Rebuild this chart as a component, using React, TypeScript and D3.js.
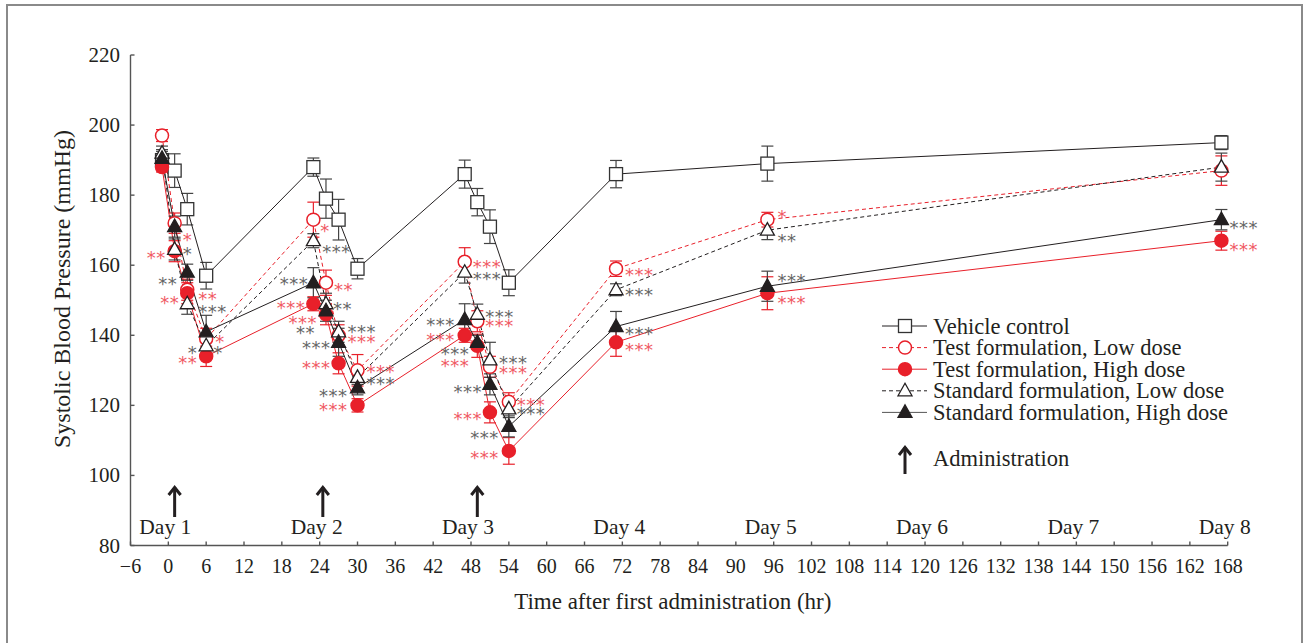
import React from "react";
import * as d3 from "d3";

// sampling times (hr after first administration)
const hours = [-1, 1, 3, 6, 23, 25, 27, 30, 47, 49, 51, 54, 71, 95, 167];

const vehicleMean = [190, 187, 176, 157, 188, 179, 173, 159, 186, 178, 171, 155, 186, 189, 195];
const vehicleSD = [3, 4.8, 4.5, 3.8, 2.6, 5.6, 5.8, 2.9, 4, 3.9, 4.8, 3.7, 3.9, 5, 2];

const testLowMean = [197, 172, 153, 139, 173, 155, 140, 130, 161, 144, 131, 121, 159, 173, 187];
const testLowSD = [1.7, 2.9, 3, 3, 5, 3.6, 3, 4.5, 4, 3, 3, 2.6, 2.2, 2.1, 4.2];

const testHighMean = [188, 164, 152, 134, 149, 146, 132, 120, 140, 137, 118, 107, 138, 152, 167];
const testHighSD = [1.4, 3, 3, 2.9, 2, 3, 3, 1.9, 2, 3.3, 3, 3.8, 4, 4.7, 2.7];

const stdLowMean = [192, 164.5, 149, 137, 167, 149, 141, 128, 158, 146, 133, 119, 153, 170, 188];
const stdLowSD = [2, 3, 3, 2, 2, 3, 3, 2, 3.1, 2.9, 5, 2.5, 1.7, 2.7, 4];

const stdHighMean = [190.5, 171, 158, 141, 155, 147, 138, 125, 144.5, 138, 126, 114, 142.5, 154, 173];
const stdHighSD = [2, 3, 2.3, 4.7, 4.3, 3, 4, 2, 4.5, 2, 3, 3, 4.3, 4.3, 2.9];

const seriesNames = [
  "Vehicle control",
  "Test formulation, Low dose",
  "Test formulation, High dose",
  "Standard formulation, Low dose",
  "Standard formulation, High dose",
];

const yTicks = [80, 100, 120, 140, 160, 180, 200, 220];
const xTicks = d3.range(-6, 169, 6);
const dayLabels = ["Day 1", "Day 2", "Day 3", "Day 4", "Day 5", "Day 6", "Day 7", "Day 8"];
const dayHours = [0, 24, 48, 72, 96, 120, 144, 168];
const doseHours = [1, 24.5, 49];

// significance marks: [series index, time index, stars]
const sigMarks: [number, number, string][] = [
  [1, 1, "*"], [2, 1, "**"], [3, 1, "*"], [4, 2, "**"], [2, 2, "**"], [1, 2, "**"], [3, 2, "***"],
  [1, 3, "*"], [3, 3, "*"], [3, 3, "*"], [2, 3, "**"],
  [1, 4, "*"], [3, 4, "***"], [4, 4, "***"], [1, 5, "**"], [2, 4, "***"], [3, 5, "**"], [2, 5, "***"],
  [4, 5, "**"], [3, 6, "***"], [1, 6, "***"], [4, 6, "***"], [2, 6, "***"],
  [1, 7, "***"], [3, 7, "***"], [4, 7, "***"], [2, 7, "***"],
  [1, 8, "***"], [3, 8, "***"], [3, 9, "***"], [1, 9, "***"], [4, 8, "***"], [2, 8, "***"],
  [4, 9, "***"], [2, 9, "***"], [3, 10, "***"], [1, 10, "***"], [4, 10, "***"], [2, 10, "***"],
  [1, 11, "***"], [3, 11, "***"], [4, 11, "***"], [2, 11, "***"],
  [1, 12, "***"], [3, 12, "***"], [4, 12, "***"], [2, 12, "***"],
  [1, 13, "*"], [3, 13, "**"], [4, 13, "***"], [2, 13, "***"],
  [4, 14, "***"], [2, 14, "***"],
];
// placement of each mark relative to its point (dx<0 = left, right-aligned)
const sigNudge: [number, number][] = [
  [8, 12], [-9, 2], [8, 0], [-10, 7], [-8, 5], [11, 4], [11, 3],
  [9, -2], [-9, 2], [7, 2], [-9, 2],
  [7, 6], [9, 6], [-5, -4], [8, 2], [-8, -1], [7, 0], [-9, 4],
  [-11, 17], [9, -5], [9, 2], [-8, 1], [-8, 0],
  [9, -3], [9, 2], [-10, 3], [-10, 0],
  [8, 0], [8, 2], [8, -2], [8, 0], [-10, 0], [-10, 0],
  [-8, 7], [-8, 15], [9, -2], [9, 1], [-8, 3], [-8, 2],
  [8, -2], [8, 0], [-10, 7], [-10, 2],
  [9, 1], [9, 0], [9, 2], [9, 3],
  [10, -8], [10, 6], [10, -10], [10, 5],
  [8, 3], [8, 4],
];

const RED = "#e8202a";
const INK = "#231f20";
const SERIF = "'Liberation Serif', 'Times New Roman', serif";

const W = 1306;
const H = 643;

const x = d3.scaleLinear().domain([-6, 168]).range([130.5, 1227.7]);
const y = d3.scaleLinear().domain([80, 220]).range([545.5, 55]);

type Style = { color: string; bar: string; dash?: string; marker: string; fill: string; sig: string };
const styles: Style[] = [
  { color: INK, bar: "#444", marker: "square", fill: "#fff", sig: "#666" },
  { color: RED, bar: RED, dash: "4,3", marker: "circle", fill: "#fff", sig: "#f05a64" },
  { color: RED, bar: RED, marker: "circle", fill: RED, sig: "#f05a64" },
  { color: INK, bar: "#444", dash: "4,3", marker: "triangle", fill: "#fff", sig: "#666" },
  { color: INK, bar: "#444", marker: "triangle", fill: INK, sig: "#666" },
];
const means = [vehicleMean, testLowMean, testHighMean, stdLowMean, stdHighMean];
const sds = [vehicleSD, testLowSD, testHighSD, stdLowSD, stdHighSD];

function Marker({ s, cx, cy }: { s: Style; cx: number; cy: number }) {
  if (s.marker === "square")
    return <rect x={cx - 6.5} y={cy - 6.5} width={13} height={13} fill={s.fill} stroke="#333" strokeWidth={1.3} />;
  if (s.marker === "circle")
    return <circle cx={cx} cy={cy} r={6.5} fill={s.fill} stroke={s.color} strokeWidth={1.5} />;
  const tri = d3.path();
  tri.moveTo(cx, cy - 7.5);
  tri.lineTo(cx + 7, cy + 5);
  tri.lineTo(cx - 7, cy + 5);
  tri.closePath();
  return <path d={tri.toString()} fill={s.fill} stroke={INK} strokeWidth={1.3} />;
}

function Arrow({ cx, top, len }: { cx: number; top: number; len: number }) {
  return (
    <g stroke={INK} strokeWidth={3} fill="none">
      <line x1={cx} y1={top + 1} x2={cx} y2={top + len} />
      <polyline points={`${cx - 6},${top + 9} ${cx},${top + 1.5} ${cx + 6},${top + 9}`} strokeLinejoin="miter" />
    </g>
  );
}

export default function App() {
  const line = d3.line<number>().x((_, i) => x(hours[i])).y((d) => y(d));

  return (
    <svg width={W} height={H} style={{ position: "absolute", left: 0, top: 0, background: "#fff" }} fontFamily={SERIF}>
      <rect x={7} y={5} width={1295} height={660} fill="none" stroke="#8a8a8a" strokeWidth={2} />

      {/* axes */}
      <g stroke="#555" strokeWidth={1.4}>
        <line x1={x(-6)} x2={x(-6)} y1={y(220)} y2={y(80)} />
        <line x1={x(-6)} x2={x(168)} y1={y(80)} y2={y(80)} />
        {yTicks.map((t) => (
          <line key={"yt" + t} x1={x(-6)} x2={x(-6) + 4} y1={y(t)} y2={y(t)} />
        ))}
        {xTicks.map((t) => (
          <line key={"xt" + t} x1={x(t)} x2={x(t)} y1={y(80)} y2={y(80) - 4} />
        ))}
      </g>
      {yTicks.map((t) => (
        <text key={"yl" + t} x={120} y={y(t) + 7} textAnchor="end" fontSize={21} fill={INK}>
          {t}
        </text>
      ))}
      {xTicks.map((t) => (
        <text key={"xl" + t} x={x(t)} y={573} textAnchor="middle" fontSize={20} fill={INK}>
          {t < 0 ? "\u2212" + Math.abs(t) : t}
        </text>
      ))}
      <text x={x(80)} y={609} textAnchor="middle" fontSize={23} fill={INK}>
        Time after first administration (hr)
      </text>
      <text transform={`translate(70,289) rotate(-90)`} textAnchor="middle" fontSize={24} fill={INK}>
        Systolic Blood Pressure (mmHg)
      </text>

      {dayLabels.map((d, i) => (
        <text key={d} x={x(dayHours[i]) - 3} y={534} textAnchor="middle" fontSize={21.5} fill={INK}>
          {d}
        </text>
      ))}
      {doseHours.map((h) => (
        <Arrow key={"ar" + h} cx={x(h)} top={486} len={31} />
      ))}

      {/* error bars and lines */}
      {means.map((m, si) => (
        <g key={"sl" + si}>
          {m.map((v, i) => {
            const cx = x(hours[i]);
            const e = sds[si][i];
            return (
              <g key={i} stroke={styles[si].bar} strokeWidth={1.2}>
                <line x1={cx} x2={cx} y1={y(v - e)} y2={y(v + e)} />
                <line x1={cx - 6} x2={cx + 6} y1={y(v + e)} y2={y(v + e)} />
                <line x1={cx - 6} x2={cx + 6} y1={y(v - e)} y2={y(v - e)} />
              </g>
            );
          })}
          <path d={line(m) || ""} fill="none" stroke={styles[si].color} strokeWidth={1} strokeDasharray={styles[si].dash} />
        </g>
      ))}

      {/* significance */}
      {sigMarks.map(([si, ti, t], k) => {
        const [dx, dy] = sigNudge[k];
        return (
          <text
            key={"sg" + k}
            x={x(hours[ti]) + dx}
            y={y(means[si][ti]) + dy + 11}
            textAnchor={dx < 0 ? "end" : "start"}
            fontFamily="'DejaVu Sans', sans-serif"
            fontSize={18}
            letterSpacing={0.5}
            fill={styles[si].sig}
          >
            {t}
          </text>
        );
      })}

      {/* markers */}
      {means.map((m, si) => (
        <g key={"mk" + si}>
          {m.map((v, i) => (
            <Marker key={i} s={styles[si]} cx={x(hours[i])} cy={y(v)} />
          ))}
        </g>
      ))}

      {/* legend */}
      {seriesNames.map((n, i) => {
        const ly = 326 + i * 21.6;
        return (
          <g key={n}>
            <line x1={882} x2={927} y1={ly} y2={ly} stroke={i === 4 ? "#555" : styles[i].color} strokeWidth={1} strokeDasharray={styles[i].dash} />
            <Marker s={styles[i]} cx={905} cy={ly} />
            <text x={933} y={ly + 7.5} fontSize={22.5} fill={INK}>
              {n}
            </text>
          </g>
        );
      })}
      <Arrow cx={905} top={446} len={28} />
      <text x={933} y={466} fontSize={22.5} fill={INK}>
        Administration
      </text>
    </svg>
  );
}
